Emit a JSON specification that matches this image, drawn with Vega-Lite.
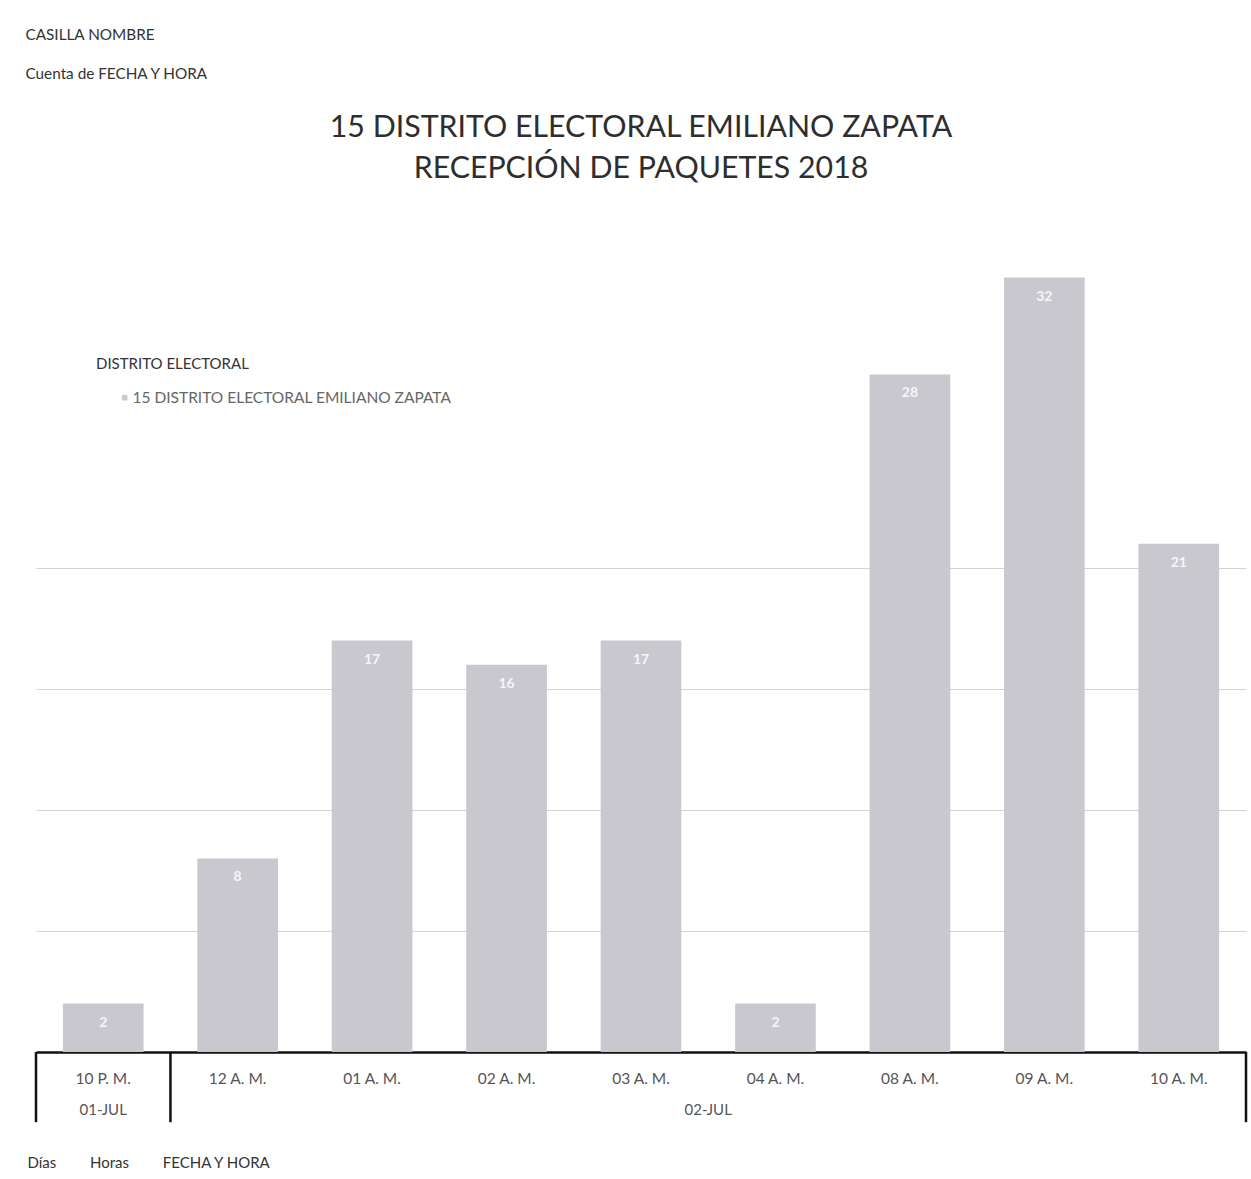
{
  "$schema": "https://vega.github.io/schema/vega-lite/v6.json",
  "autosize": "none",
  "width": 1210,
  "height": 847,
  "padding": {"left": 36, "top": 205, "right": 5, "bottom": 127},
  "background": "#ffffff",
  "config": {
    "font": "Lato",
    "view": {"stroke": null}
  },
  "title": {
    "text": ["15 DISTRITO ELECTORAL EMILIANO ZAPATA", "RECEPCIÓN DE PAQUETES 2018"],
    "anchor": "middle",
    "frame": "group",
    "font": "Lato",
    "fontSize": 30.3,
    "fontWeight": "normal",
    "color": "#2e2e2e",
    "lineHeight": 41,
    "offset": -157
  },
  "data": {
    "values": [
      {"hora": "10 P. M.", "dia": "01-JUL", "distrito": "15 DISTRITO ELECTORAL EMILIANO ZAPATA", "cuenta": 2},
      {"hora": "12 A. M.", "dia": "02-JUL", "distrito": "15 DISTRITO ELECTORAL EMILIANO ZAPATA", "cuenta": 8},
      {"hora": "01 A. M.", "dia": "02-JUL", "distrito": "15 DISTRITO ELECTORAL EMILIANO ZAPATA", "cuenta": 17},
      {"hora": "02 A. M.", "dia": "02-JUL", "distrito": "15 DISTRITO ELECTORAL EMILIANO ZAPATA", "cuenta": 16},
      {"hora": "03 A. M.", "dia": "02-JUL", "distrito": "15 DISTRITO ELECTORAL EMILIANO ZAPATA", "cuenta": 17},
      {"hora": "04 A. M.", "dia": "02-JUL", "distrito": "15 DISTRITO ELECTORAL EMILIANO ZAPATA", "cuenta": 2},
      {"hora": "08 A. M.", "dia": "02-JUL", "distrito": "15 DISTRITO ELECTORAL EMILIANO ZAPATA", "cuenta": 28},
      {"hora": "09 A. M.", "dia": "02-JUL", "distrito": "15 DISTRITO ELECTORAL EMILIANO ZAPATA", "cuenta": 32},
      {"hora": "10 A. M.", "dia": "02-JUL", "distrito": "15 DISTRITO ELECTORAL EMILIANO ZAPATA", "cuenta": 21}
    ]
  },
  "encoding": {
    "x": {
      "field": "hora",
      "type": "nominal",
      "sort": null,
      "scale": {"paddingInner": 0.4, "paddingOuter": 0.2},
      "axis": {
        "title": "Días\u2003\u2003\u2003Horas\u2003\u2003\u2003FECHA Y HORA",
        "titleFont": "Lato",
        "titleFontSize": 15,
        "titleFontWeight": "normal",
        "titleColor": "#333333",
        "titleAnchor": "start",
        "titleAlign": "left",
        "titleX": -9,
        "titleY": 103,
        "labelAngle": 0,
        "labelFont": "Lato",
        "labelFontSize": 15.5,
        "labelColor": "#555555",
        "labelPadding": 19,
        "domainColor": "#111111",
        "domainWidth": 2.5,
        "ticks": false,
        "grid": false
      }
    },
    "y": {
      "field": "cuenta",
      "type": "quantitative",
      "scale": {"domain": [0, 35]},
      "axis": {
        "title": ["CASILLA NOMBRE", "Cuenta de FECHA Y HORA"],
        "titleFont": "Lato",
        "titleFontSize": 15.3,
        "titleFontWeight": "normal",
        "titleColor": "#333333",
        "titleAngle": 0,
        "titleAlign": "left",
        "titleBaseline": "top",
        "titleLineHeight": 39,
        "titleX": -11,
        "titleY": -178,
        "labels": false,
        "ticks": false,
        "domain": false,
        "grid": true,
        "gridColor": "#d2d2d2",
        "gridWidth": 1,
        "values": [5, 10, 15, 20]
      }
    }
  },
  "layer": [
    {
      "mark": {"type": "bar", "color": "#c9c8cf"},
      "encoding": {
        "color": {
          "field": "distrito",
          "type": "nominal",
          "scale": {"range": ["#c9c8cf"]},
          "legend": {
            "title": "DISTRITO ELECTORAL",
            "orient": "none",
            "legendX": 60,
            "legendY": 152,
            "titleFont": "Lato",
            "titleFontSize": 15,
            "titleFontWeight": "normal",
            "titleColor": "#333333",
            "titlePadding": 18,
            "labelFont": "Lato",
            "labelFontSize": 15.5,
            "labelColor": "#666666",
            "labelLimit": 500,
            "labelOffset": 0,
            "symbolType": "square",
            "symbolSize": 30,
            "symbolOffset": 21,
            "symbolStrokeWidth": 0
          }
        }
      }
    },
    {
      "mark": {"type": "text", "color": "#f6f6f6", "fontSize": 14, "fontWeight": "bold", "font": "Lato", "baseline": "middle", "dy": 19},
      "encoding": {
        "text": {"field": "cuenta", "type": "quantitative"}
      }
    },
    {
      "transform": [{"filter": "datum.hora === '10 P. M.' || datum.hora === '12 A. M.'"}],
      "mark": {"type": "rule", "color": "#111111", "strokeWidth": 2.5},
      "encoding": {
        "x": {"field": "hora", "type": "nominal", "sort": null, "bandPosition": -0.3333},
        "y": {"datum": 0},
        "y2": {"datum": -2.9}
      }
    },
    {
      "transform": [{"filter": "datum.hora === '10 A. M.'"}],
      "mark": {"type": "rule", "color": "#111111", "strokeWidth": 2.5},
      "encoding": {
        "x": {"field": "hora", "type": "nominal", "sort": null, "bandPosition": 1.3333},
        "y": {"datum": 0},
        "y2": {"datum": -2.9}
      }
    },
    {
      "transform": [{"filter": "datum.hora === '10 P. M.'"}],
      "mark": {"type": "text", "fontSize": 15, "font": "Lato", "color": "#555555", "baseline": "middle", "dy": 58},
      "encoding": {
        "y": {"datum": 0},
        "text": {"field": "dia"}
      }
    },
    {
      "transform": [{"filter": "datum.hora === '04 A. M.'"}],
      "mark": {"type": "text", "fontSize": 15, "font": "Lato", "color": "#555555", "baseline": "middle", "dy": 58},
      "encoding": {
        "x": {"field": "hora", "type": "nominal", "sort": null, "bandPosition": -0.3333},
        "y": {"datum": 0},
        "text": {"field": "dia"}
      }
    }
  ]
}
